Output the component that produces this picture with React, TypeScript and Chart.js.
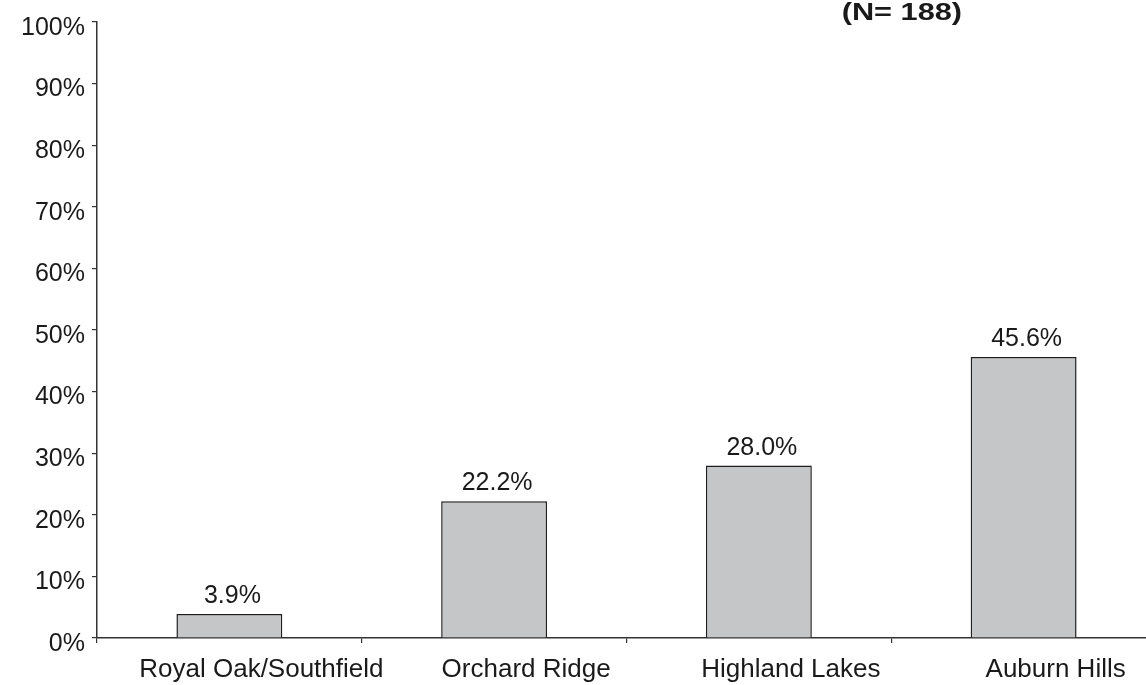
import React, { useEffect, useRef } from "react";
import { Chart, registerables } from "chart.js";

Chart.register(...registerables);

const categories = ["Royal Oak/Southfield", "Orchard Ridge", "Highland Lakes", "Auburn Hills"];
const values = [3.9, 22.2, 28.0, 45.6];
const valueLabels = ["3.9%", "22.2%", "28.0%", "45.6%"];
const yTicks = [0, 10, 20, 30, 40, 50, 60, 70, 80, 90, 100];
const titleText = "(N= 188)";

const FONT = "'Liberation Sans', Arial, Helvetica, sans-serif";

export default function App() {
  const ref = useRef<HTMLCanvasElement | null>(null);

  useEffect(() => {
    document.body.style.margin = "0";
    const canvas = ref.current;
    if (!canvas) return;

    const labelPlugin = {
      id: "valueLabels",
      afterDatasetsDraw(chart: any) {
        const ctx = chart.ctx;
        const meta = chart.getDatasetMeta(0);
        ctx.save();
        ctx.font = `25px ${FONT}`;
        ctx.fillStyle = "#1a1a1a";
        ctx.textAlign = "center";
        ctx.textBaseline = "alphabetic";
        meta.data.forEach((bar: any, i: number) => {
          ctx.fillText(valueLabels[i], bar.x + 3, bar.y - 11);
        });
        ctx.restore();
      },
    };

    const titlePlugin = {
      id: "topTitle",
      afterDraw(chart: any) {
        const ctx = chart.ctx;
        const area = chart.chartArea;
        const cx = area.left + (area.right - area.left) * 0.76;
        ctx.save();
        ctx.font = `bold 24px ${FONT}`;
        ctx.fillStyle = "#1a1a1a";
        ctx.textAlign = "center";
        ctx.textBaseline = "alphabetic";
        ctx.translate(cx, 20);
        ctx.scale(1.28, 1);
        ctx.fillText(titleText, 0, 0);
        ctx.restore();
      },
    };

    const chart = new Chart(canvas, {
      type: "bar",
      data: {
        labels: categories,
        datasets: [
          {
            data: values,
            backgroundColor: "#c5c6c8",
            borderColor: "#1e1e1e",
            borderWidth: 1.5,
            barPercentage: 0.4,
            categoryPercentage: 1,
          },
        ],
      },
      options: {
        animation: false,
        responsive: false,
        maintainAspectRatio: false,
        layout: { padding: { top: 11, right: 1, left: 0, bottom: 0 } },
        plugins: {
          legend: { display: false },
          tooltip: { enabled: false },
          title: { display: false },
        },
        scales: {
          x: {
            offset: true,
            grid: {
              display: true,
              offset: true,
              drawOnChartArea: false,
              drawTicks: true,
              tickLength: 5,
              color: "#333",
              lineWidth: 1.2,
            },
            border: { display: true, color: "#333", width: 1.5 },
            ticks: {
              color: "#1a1a1a",
              font: { family: FONT, size: 26 },
              padding: 11,
              labelOffset: 32,
              maxRotation: 0,
              autoSkip: false,
            },
            afterFit(scale: any) {
              scale.height = 47;
            },
          },
          y: {
            min: 0,
            max: 100,
            afterBuildTicks(scale: any) {
              scale.ticks = yTicks.map((v) => ({ value: v }));
            },
            grid: {
              display: true,
              drawOnChartArea: false,
              drawTicks: true,
              tickLength: 5,
              color: "#333",
              lineWidth: 1.2,
            },
            border: { display: true, color: "#333", width: 1.5 },
            ticks: {
              color: "#1a1a1a",
              font: { family: FONT, size: 25 },
              padding: 7,
              labelOffset: 6,
              callback: (v: any) => `${v}%`,
            },
            afterFit(scale: any) {
              scale.width = 97;
            },
          },
        },
      },
      plugins: [labelPlugin, titlePlugin],
    });

    return () => chart.destroy();
  }, []);

  return (
    <div style={{ position: "absolute", left: 0, top: 0, width: 1146, height: 685, overflow: "hidden", background: "#fff" }}>
      <canvas ref={ref} width={1157} height={685} style={{ display: "block" }} />
    </div>
  );
}
